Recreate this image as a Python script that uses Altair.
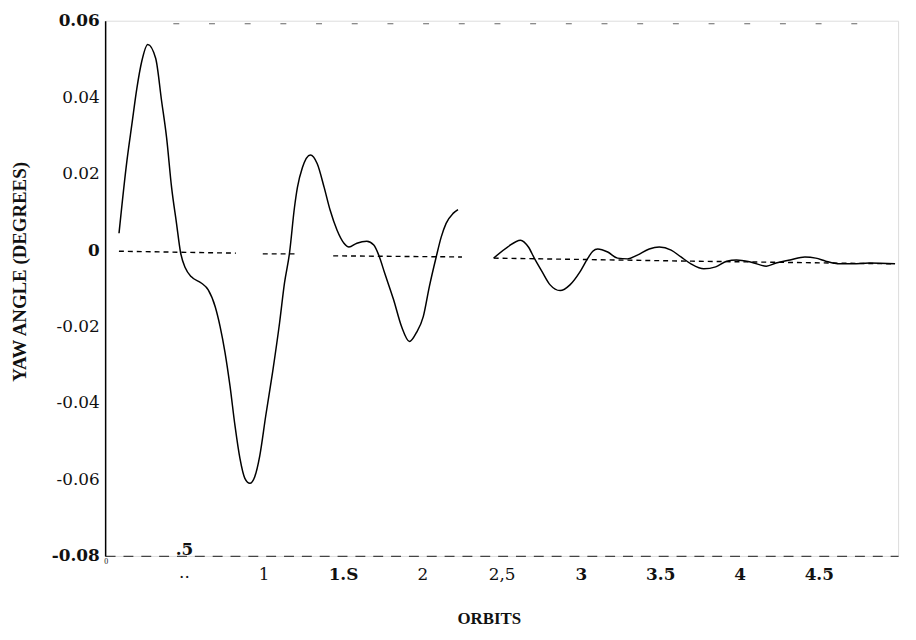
import altair as alt
import pandas as pd

# Solid response curve (orbits, yaw degrees)
seg1_x = [0.0875, 0.1375, 0.169, 0.2, 0.231, 0.269, 0.319, 0.356, 0.3875, 0.419,
          0.45, 0.475, 0.506, 0.544, 0.606, 0.65, 0.694, 0.725, 0.756, 0.7875,
          0.819, 0.85, 0.881, 0.9125, 0.944, 0.975, 1.0125, 1.056, 1.1, 1.131,
          1.1625, 1.194, 1.2125, 1.244, 1.294, 1.3375, 1.381, 1.419, 1.4625, 1.506,
          1.5375, 1.5875, 1.65, 1.694, 1.725, 1.7625, 1.819, 1.869, 1.919, 1.9625,
          2.006, 2.044, 2.0875, 2.119, 2.15, 2.194, 2.225]
seg1_y = [0.0044, 0.0234, 0.0330, 0.0423, 0.0494, 0.0538, 0.0501, 0.0390, 0.0294, 0.0164,
          0.0070, -0.0005, -0.0047, -0.0070, -0.0086, -0.0104, -0.0148, -0.0200, -0.0268, -0.0356,
          -0.0460, -0.0545, -0.0597, -0.0610, -0.0592, -0.0538, -0.0434, -0.0319, -0.0190, -0.0086,
          -0.0008, 0.0112, 0.0164, 0.0216, 0.0249, 0.0226, 0.0164, 0.0104, 0.0052, 0.0018,
          0.0008, 0.0018, 0.0023, 0.0013, -0.0013, -0.0060, -0.0130, -0.0200, -0.0239, -0.0216,
          -0.0174, -0.0096, -0.0018, 0.0034, 0.0070, 0.0096, 0.0106]
seg2_x = [2.45, 2.5375, 2.619, 2.669, 2.706, 2.756, 2.806, 2.869, 2.931, 2.994,
          3.044, 3.075, 3.106, 3.169, 3.231, 3.294, 3.356, 3.431, 3.494, 3.569,
          3.631, 3.694, 3.775, 3.85, 3.919, 3.981, 4.069, 4.169, 4.231, 4.319,
          4.4125, 4.481, 4.544, 4.631, 4.7125, 4.819, 4.981]
seg2_y = [-0.0021, 0.0008, 0.0026, 0.0008, -0.0021, -0.0057, -0.0091, -0.0106, -0.0091, -0.0057,
          -0.0021, -0.0003, 0.0003, -0.0005, -0.0021, -0.0023, -0.0013, 0.0003, 0.0008, 0.0000,
          -0.0018, -0.0036, -0.0049, -0.0044, -0.0029, -0.0026, -0.0031, -0.0042, -0.0034, -0.0026,
          -0.0018, -0.0021, -0.0029, -0.0036, -0.0036, -0.0034, -0.0036]

# Dashed reference line, drawn in the pieces visible in the picture
ref_seg = ["a", "a", "b", "b", "c", "c", "d", "d", "d"]
ref_x = [0.087, 0.825, 0.994, 1.213, 1.438, 2.25, 2.45, 3.7, 4.981]
ref_y = [-0.0003, -0.0008, -0.0010, -0.0010, -0.0015, -0.0018, -0.0021, -0.0029, -0.0036]

# Tick labels as they appear
y_ticks = [-0.08, -0.06, -0.04, -0.02, 0, 0.02, 0.04, 0.06]
x_ticks = [1, 1.5, 2, 2.5, 3, 3.5, 4, 4.5]
x_tick_text = ["1", "1.S", "2", "2,5", "3", "3.5", "4", "4.5"]

curve = pd.DataFrame({
    "orbit": seg1_x + seg2_x,
    "yaw": seg1_y + seg2_y,
    "seg": ["s1"] * len(seg1_x) + ["s2"] * len(seg2_x),
})
ref = pd.DataFrame({"orbit": ref_x, "yaw": ref_y, "seg": ref_seg})

label_expr = " : ".join(
    f"datum.value == {v} ? '{t}'" for v, t in zip(x_ticks, x_tick_text)
) + " : ''"

xs = alt.Scale(domain=[0, 5], nice=False)
ys = alt.Scale(domain=[-0.08, 0.06], nice=False)

FONT = "Liberation Serif"
LFONT = "DejaVu Serif"

x_axis = alt.Axis(
    values=x_ticks, labelExpr=label_expr, grid=False, ticks=False,
    domainColor="#444", domainDash=[10, 8], domainWidth=1.2,
    labelFont=LFONT, labelFontSize=17, labelColor="#111",
    labelFontWeight={"condition": {"test": "datum.value == 1 || datum.value == 2 || datum.value == 2.5",
                                   "value": "normal"}, "value": "bold"},
    labelPadding=11, labelFlush=False,
    title="ORBITS", titleFont=FONT, titleFontSize=17, titleFontWeight="bold",
    titleColor="#111", titleX=387, titleY=63, titleBaseline="middle", titleAlign="center",
)
y_axis = alt.Axis(
    values=y_ticks,
    labelExpr="datum.value == 0 ? '0' : (datum.value < 0 ? '-' : '') + format(abs(datum.value), '.2f')",
    grid=False, ticks=False, domainColor="#000", domainWidth=1.5,
    labelFont=LFONT, labelFontSize=17, labelColor="#111", labelPadding=6,
    labelFontWeight={"condition": {"test": "datum.value == 0 || datum.value > 0.059 || datum.value < -0.079",
                                   "value": "bold"}, "value": "normal"},
    title="YAW ANGLE (DEGREES)", titleFont=FONT, titleFontSize=19,
    titleFontWeight="bold", titleColor="#111", titleX=-86, titleY=253,
    titleAngle=-90, titleBaseline="middle", titleAlign="center",
)

base_line = alt.Chart(curve).mark_line(color="#000", strokeWidth=1.5, interpolate="monotone").encode(
    x=alt.X("orbit:Q", scale=xs, axis=x_axis),
    y=alt.Y("yaw:Q", scale=ys, axis=y_axis),
    detail="seg:N",
)

ref_line = alt.Chart(ref).mark_line(color="#000", strokeWidth=1.4, strokeDash=[5, 4]).encode(
    x=alt.X("orbit:Q", scale=xs),
    y=alt.Y("yaw:Q", scale=ys),
    detail="seg:N",
)

top_edge = alt.Chart(pd.DataFrame({"x": [0.43], "x2": [4.85], "y": [0.0592]})).mark_rule(
    color="#666", strokeWidth=1.2, strokeDash=[6, 30]
).encode(x=alt.X("x:Q", scale=xs), x2="x2:Q", y=alt.Y("y:Q", scale=ys))

extra_text = pd.DataFrame({"orbit": [0.5, 0.5], "yaw": [-0.08, -0.08], "t": [".5", ".."]})
half_lbl = alt.Chart(extra_text.iloc[[0]]).mark_text(
    font=LFONT, fontSize=17, fontWeight="bold", color="#111", baseline="bottom", dy=3
).encode(x=alt.X("orbit:Q", scale=xs), y=alt.Y("yaw:Q", scale=ys), text="t:N")
dots_lbl = alt.Chart(extra_text.iloc[[1]]).mark_text(
    font=LFONT, fontSize=17, color="#111", baseline="middle", dy=17
).encode(x=alt.X("orbit:Q", scale=xs), y=alt.Y("yaw:Q", scale=ys), text="t:N")
zero_lbl = alt.Chart(pd.DataFrame({"orbit": [0.0], "yaw": [-0.08], "t": ["0"]})).mark_text(
    font=FONT, fontSize=8, color="#111", baseline="middle", dy=6, dx=1
).encode(x=alt.X("orbit:Q", scale=xs), y=alt.Y("yaw:Q", scale=ys), text="t:N")

chart = alt.layer(base_line, ref_line, top_edge, half_lbl, dots_lbl, zero_lbl).properties(
    width=800, height=540,
    autosize=alt.AutoSizeParams(type="none"),
    padding={"left": 98, "top": 10, "right": 10, "bottom": 82},
).configure_view(stroke=None).configure(background="white")

chart.save("out.html", embed_options={"renderer": "svg", "actions": False})
